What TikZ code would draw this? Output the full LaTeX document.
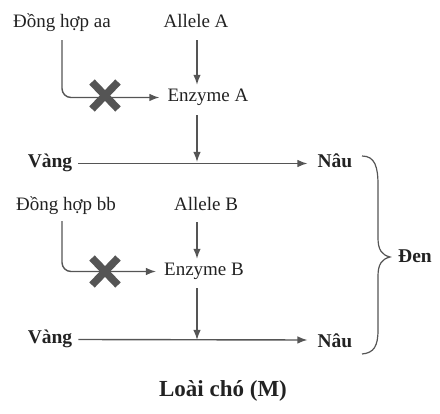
\documentclass[tikz,border=0pt]{standalone}
\usepackage{fontspec}
\setmainfont{Liberation Serif}
\usetikzlibrary{arrows.meta}
\definecolor{linegray}{HTML}{555555}
\definecolor{txt}{HTML}{222222}
\begin{document}
\begin{tikzpicture}[x=1pt,y=-1pt,
  lbl/.style={inner sep=0pt,text height=13pt,text depth=4pt,text=txt,anchor=base,font=\fontsize{19}{21}\selectfont},
  blbl/.style={lbl,font=\fontsize{19.5}{21}\selectfont\bfseries},
  conn/.style={draw=linegray,line width=1.4pt,-{Latex[length=10pt,width=7.5pt]}},
  plain/.style={draw=linegray,line width=1.3pt},
  cross/.style={draw=linegray,line width=7.5pt}]
\useasboundingbox (0,0) rectangle (440,414);
% top module
\node[lbl] (aa) at (62,28) {Đồng hợp aa};
\node[lbl] (alA) at (196,28) {Allele A};
\node[lbl] (enA) at (208,102) {Enzyme A};
\node[blbl] (v1) at (50,168) {Vàng};
\node[blbl] (n1) at (335,168) {Nâu};
\coordinate (jA) at (197,162);
\draw[conn] ([yshift=-8pt]alA.south -| jA) -- ([yshift=4pt]enA.north -| jA);
\draw[conn,rounded corners=9pt] ([yshift=-8pt]aa.south) -- (aa.south |- enA) -- ([xshift=-8pt]enA.west);
\draw[conn] ([yshift=-9pt]enA.south -| jA) -- (jA);
\draw[conn] ([xshift=6pt]v1.east) -- ([xshift=-10pt]n1.west);
\draw[cross] (92,82) -- (118,109) (92,109) -- (118,82);
% bottom module
\node[lbl] (bb) at (66,211) {Đồng hợp bb};
\node[lbl] (alB) at (206,211) {Allele B};
\node[lbl] (enB) at (204,276) {Enzyme B};
\node[blbl] (v2) at (50,344) {Vàng};
\node[blbl] (n2) at (335,348) {Nâu};
\coordinate (jB) at (197,340);
\draw[conn] ([yshift=-7pt]alB.south -| jB) -- ([yshift=4pt]enB.north -| jB);
\draw[conn,rounded corners=9pt] ([yshift=-6pt]bb.south -| aa.south) -- (aa.south |- enB) -- ([xshift=-8pt]enB.west);
\draw[conn] ([yshift=-8pt]enB.south -| jB) -- (jB);
\draw[conn] ([xshift=6pt]v2.east) -- ([xshift=-10pt]n2.west |- jB);
\draw[cross] (92,258) -- (118,285) (92,285) -- (118,258);
% brace
\node[blbl] (den) at (415,263) {Đen};
\draw[plain,line width=1.2pt] (362,156) .. controls (375,156) and (378,167) .. (378,185) -- (378,238)
  .. controls (378,250) and (382,255) .. (390,257)
  .. controls (382,259) and (378,264) .. (378,276) -- (378,330)
  .. controls (378,346) and (374,353) .. (362,354);
% title
\node[lbl,font=\fontsize{23}{26}\selectfont\bfseries] (title) at (223,397) {Loài chó (M)};
\end{tikzpicture}
\end{document}
